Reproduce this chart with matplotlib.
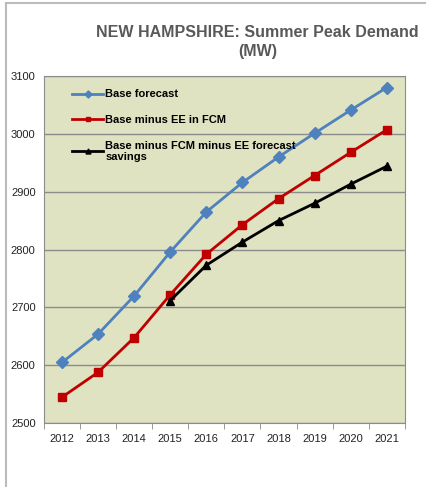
import matplotlib.pyplot as plt
from matplotlib.lines import Line2D

plt.rcParams['font.family'] = ['Liberation Sans', 'DejaVu Sans']

years = ['2012', '2013', '2014', '2015', '2016', '2017', '2018', '2019', '2020', '2021']
base = [2605, 2654, 2720, 2796, 2865, 2916, 2960, 3001, 3041, 3080]
minus_ee = [2545, 2588, 2648, 2722, 2792, 2843, 2888, 2928, 2968, 3007]
minus_fcm_ee = [None, None, None, 2712, 2773, 2813, 2850, 2880, 2913, 2944]

fig = plt.figure(figsize=(4.27, 4.87), dpi=100)
ax = fig.add_axes([0.103, 0.131, 0.845, 0.713])
ax.set_facecolor('#dfe3c1')

x = list(range(len(years)))
ax.plot(x, base, color='#4f81bd', lw=2, marker='D', ms=6, label='Base forecast', zorder=3)
ax.plot(x, minus_ee, color='#c00000', lw=2, marker='s', ms=6, label='Base minus EE in FCM', zorder=3)
xs = [i for i, v in zip(x, minus_fcm_ee) if v is not None]
ys = [v for v in minus_fcm_ee if v is not None]
ax.plot(xs, ys, color='black', lw=2, marker='^', ms=6,
        label='Base minus FCM minus EE forecast\nsavings', zorder=3)

ax.set_xlim(-0.5, 9.5)
ax.set_ylim(2500, 3100)
ax.set_yticks(range(2500, 3101, 100))
ax.set_xticks(x)
ax.set_xticklabels(years)
ax.set_xticks([i - 0.5 for i in range(11)], minor=True)
ax.tick_params(axis='x', which='major', length=0, labelsize=8, colors='#222222', pad=8)
ax.tick_params(axis='x', which='minor', length=4, color='#888888', direction='out')
ax.tick_params(axis='y', length=0, labelsize=8, colors='#222222', pad=6)
ax.grid(axis='y', color='#8c8c8c', lw=1)
ax.set_axisbelow(True)
for s in ax.spines.values():
    s.set_color('#8c8c8c')

ax.legend(loc='upper left', bbox_to_anchor=(0.05, 0.99), frameon=False,
          prop={'weight': 'bold', 'size': 8}, handlelength=2.8, handletextpad=0.2,
          labelspacing=1.4, markerscale=0.6)

fig.text(0.603, 0.913, 'NEW HAMPSHIRE: Summer Peak Demand\n(MW)', ha='center', va='center',
         fontsize=11.5, fontweight='bold', color='#595959', linespacing=1.35)

# outer frame lines
fig.add_artist(Line2D([0.014, 0.014], [0.0, 0.994], color='#bbbbbb', lw=1.5))
fig.add_artist(Line2D([0.014, 1.0], [0.994, 0.994], color='#bbbbbb', lw=1.5))

plt.savefig('out.png', dpi=100)
